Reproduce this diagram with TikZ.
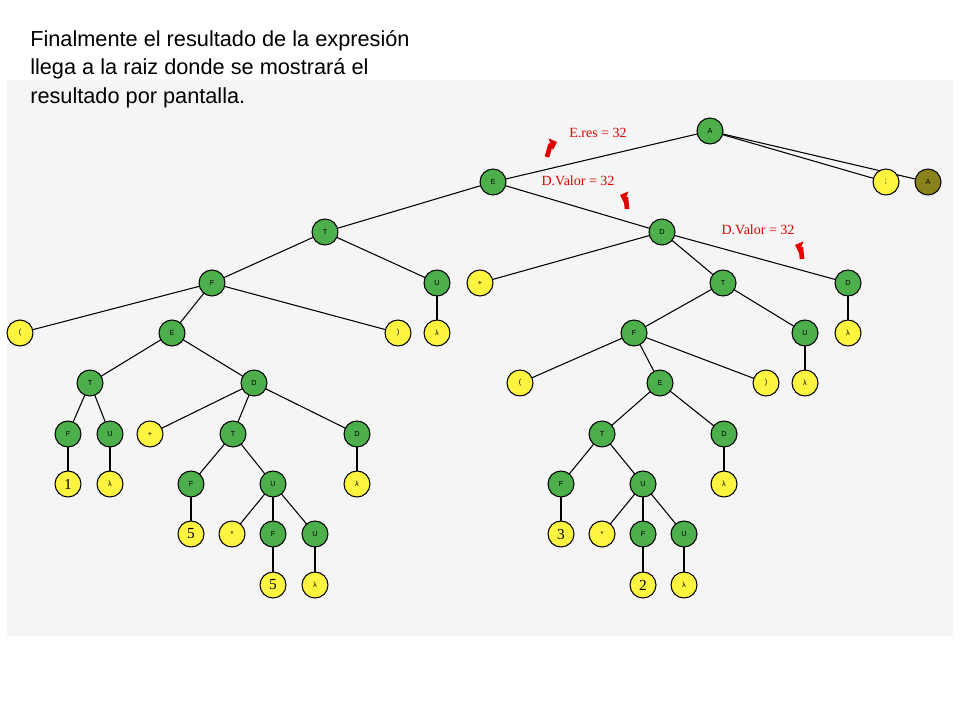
\documentclass[tikz,border=0pt]{standalone}
\usepackage{fontspec}
\setmainfont{Liberation Serif}
\setsansfont{Liberation Sans}
\usetikzlibrary{arrows.meta}
\pgfdeclarelayer{bg}\pgfdeclarelayer{edges}
\pgfsetlayers{bg,edges,main}
\begin{document}
\begin{tikzpicture}[x=0.75pt,y=-0.75pt,
  nt/.style={circle,draw=black,thick,fill=green!55!black!70!white,minimum size=19.5pt,inner sep=0pt,font=\sffamily\fontsize{5.5}{6}\selectfont},
  tm/.style={circle,draw=black,thick,fill=yellow!75!white,minimum size=19.5pt,inner sep=0pt,font=\sffamily\fontsize{5.5}{6}\selectfont},
  num/.style={tm,font=\fontsize{11.5}{11.5}\selectfont},
  lbl/.style={text=red!90!black,font=\fontsize{10.5}{11}\selectfont},
  rarr/.style={draw=red!90!black,line width=3.5pt,-{Triangle[length=5pt,width=9pt]}},
  edge/.style={draw=black,thick}]
\useasboundingbox (0,0) rectangle (960,720);
\begin{pgfonlayer}{bg}
\fill[gray!8] (7,80) rectangle (953,636);
\end{pgfonlayer}
\node[anchor=north west,align=left,font=\sffamily\fontsize{16.3}{21.5}\selectfont,inner sep=0pt] (title) at (30,30) {Finalmente el resultado de la expresión\\llega a la raiz donde se mostrará el\\resultado por pantalla.};
% nodes
\node[nt] (A) at (710,131) {A};
\node[tm] (sc) at (886,182) {;};
\node[circle,draw=black,thick,fill=olive!80!yellow!80!black,minimum size=19.5pt,inner sep=0pt,font=\sffamily\fontsize{5.5}{6}\selectfont] (A2) at (928,182) {A};
\node[nt] (E) at (493,182) {E};
\node[nt] (T) at (325,232) {T};
\node[nt] (D) at (662,232) {D};
\node[nt] (F) at (212,283) {F};
\node[nt] (U) at (437,283) {U};
\node[tm] (p1) at (480,283) {+};
\node[nt] (T2) at (723,283) {T};
\node[nt] (D2) at (848,283) {D};
\node[tm] (lp) at (20,333) {(};
\node[nt] (E1) at (172,333) {E};
\node[tm] (rp) at (398,333) {)};
\node[tm] (l1) at (437,333) {λ};
\node[nt] (F2) at (634,333) {F};
\node[nt] (U2) at (805,333) {U};
\node[tm] (l2) at (848,333) {λ};
\node[nt] (T1) at (90,383) {T};
\node[nt] (D1) at (254,383) {D};
\node[tm] (lp2) at (520,383) {(};
\node[nt] (E2) at (660,383) {E};
\node[tm] (rp2) at (766,383) {)};
\node[tm] (l3) at (805,383) {λ};
\node[nt] (F1) at (68,434) {F};
\node[nt] (U1) at (110,434) {U};
\node[tm] (p2) at (150,434) {+};
\node[nt] (T3) at (233,434) {T};
\node[nt] (D3) at (357,434) {D};
\node[nt] (T4) at (602,434) {T};
\node[nt] (D4) at (724,434) {D};
\node[num] (n1) at (68,484) {1};
\node[tm] (l4) at (110,484) {λ};
\node[nt] (F3) at (191,484) {F};
\node[nt] (U3) at (273,484) {U};
\node[tm] (l5) at (357,484) {λ};
\node[nt] (F4) at (561,484) {F};
\node[nt] (U4) at (643,484) {U};
\node[tm] (l6) at (724,484) {λ};
\node[num] (n5) at (191,534) {5};
\node[tm] (m1) at (232,534) {*};
\node[nt] (F5) at (273,534) {F};
\node[nt] (U5) at (315,534) {U};
\node[num] (n3) at (561,534) {3};
\node[tm] (m2) at (602,534) {*};
\node[nt] (F6) at (643,534) {F};
\node[nt] (U6) at (684,534) {U};
\node[num] (n5b) at (273,585) {5};
\node[tm] (l7) at (315,585) {λ};
\node[num] (n2) at (643,585) {2};
\node[tm] (l8) at (684,585) {λ};
\begin{pgfonlayer}{edges}
\foreach \a/\b in {A/E,A/sc,A/A2,E/T,E/D,T/F,T/U,F/lp,F/E1,F/rp,U/l1,D/p1,D/T2,D/D2,T2/F2,T2/U2,D2/l2,
  F2/lp2,F2/E2,F2/rp2,U2/l3,E1/T1,E1/D1,T1/F1,T1/U1,F1/n1,U1/l4,D1/p2,D1/T3,D1/D3,T3/F3,T3/U3,D3/l5,
  F3/n5,U3/m1,U3/F5,U3/U5,F5/n5b,U5/l7,E2/T4,E2/D4,T4/F4,T4/U4,D4/l6,F4/n3,U4/m2,U4/F6,U4/U6,F6/n2,U6/l8}
  \draw[edge] (\a.center) -- (\b.center);
\end{pgfonlayer}
% labels
\node[lbl] (L1) at (598,133) {E.res = 32};
\node[lbl] (L2) at (578,181) {D.Valor = 32};
\node[lbl] (L3) at (758,230) {D.Valor = 32};
\draw[rarr] (547,157) to[out=75,in=200] (557,142);
\draw[rarr] (627,209) to[out=95,in=-20] (620,195);
\draw[rarr] (802,259) to[out=95,in=-20] (795,245);
\end{tikzpicture}
\end{document}
